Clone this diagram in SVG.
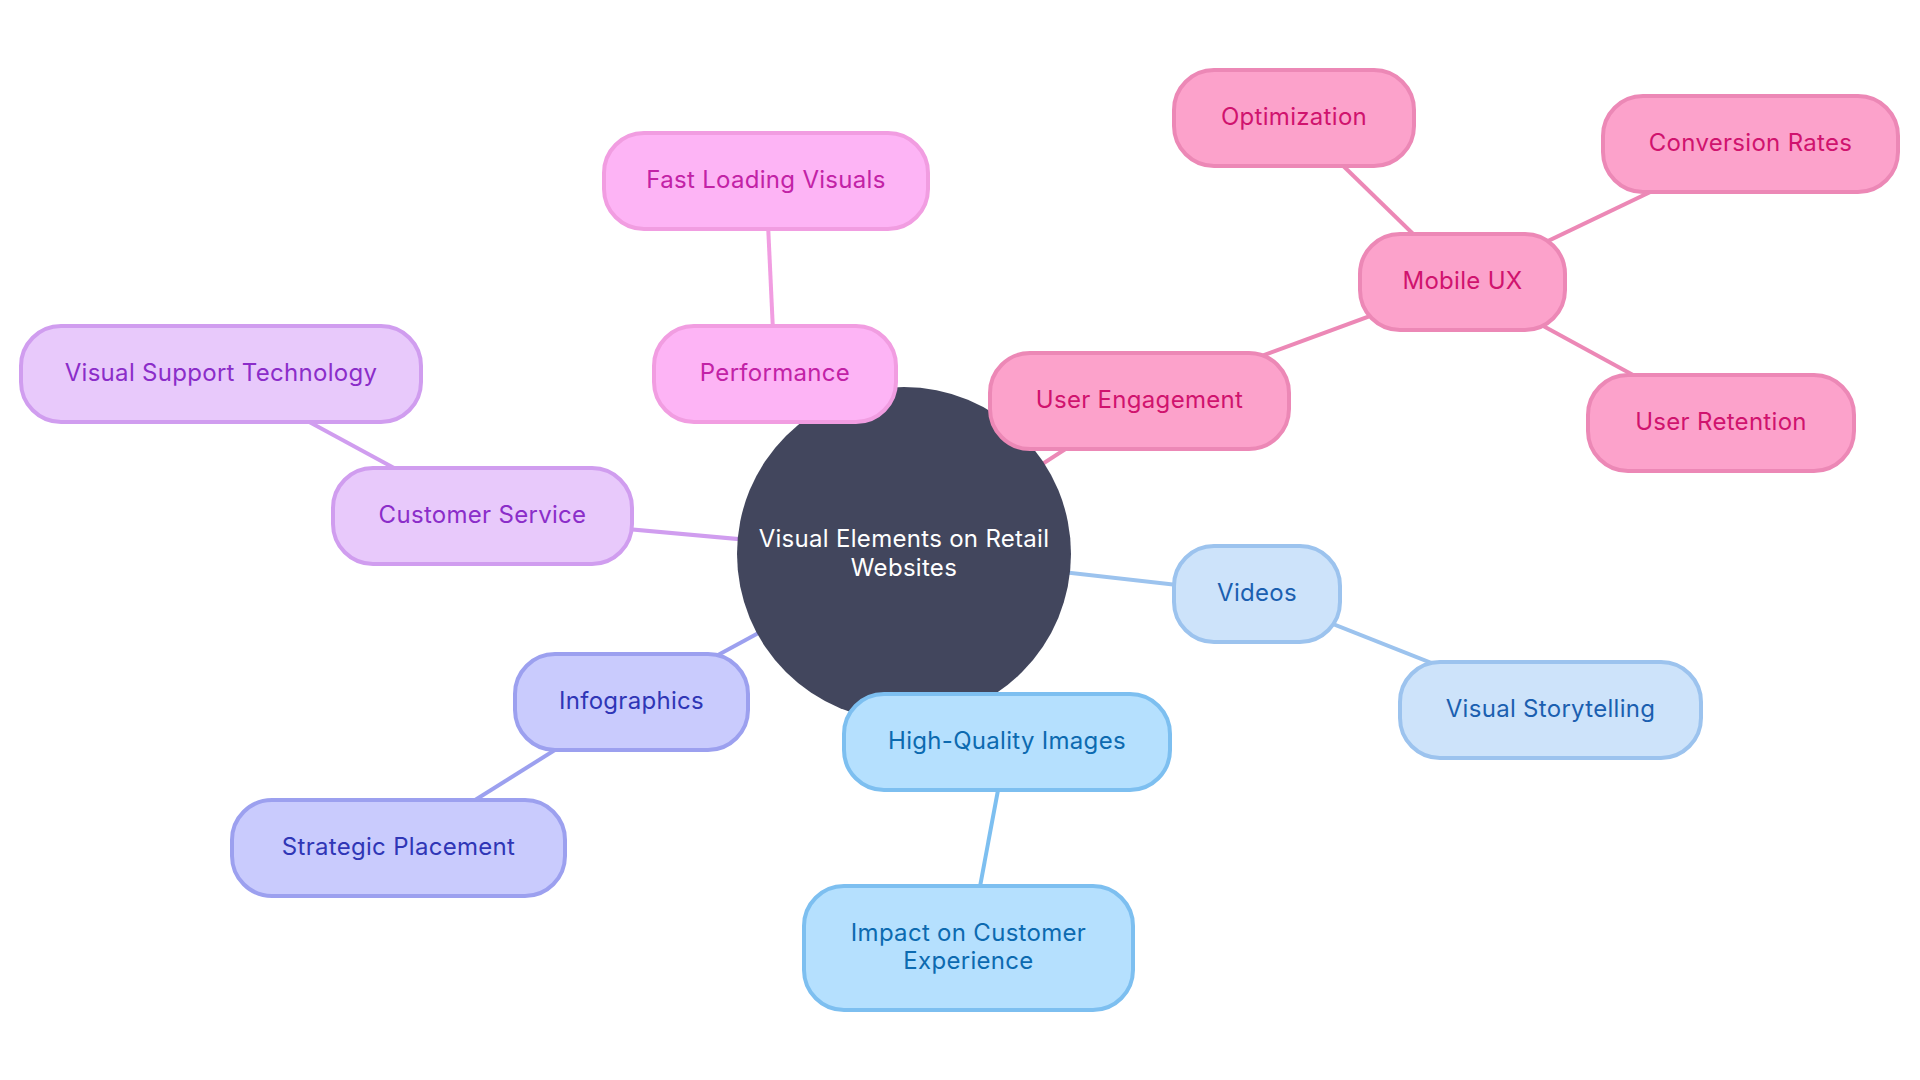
<svg xmlns="http://www.w3.org/2000/svg" width="1920" height="1080" viewBox="0 0 1920 1080">
<style>
text{font-family:Inter,"Noto Sans",sans-serif;font-size:24px;letter-spacing:0.3px;text-anchor:middle;dominant-baseline:central}
.n rect{stroke-width:4}
.e line{stroke-width:4;fill:none}
.pf rect{fill:#fdb4f5;stroke:#f19de1}.pf text{fill:#c222a6}
.ue rect{fill:#fca2cb;stroke:#ec88b6}.ue text{fill:#d0136e}
.cs rect{fill:#e8c9fb;stroke:#d09def}.cs text{fill:#8b2dc9}
.ig rect{fill:#c9cbfd;stroke:#9ca0ef}.ig text{fill:#2f36b6}
.hq rect{fill:#b5e0fe;stroke:#7dbff0}.hq text{fill:#0c6ab0}
.vd rect{fill:#cde3fa;stroke:#9cc3ee}.vd text{fill:#1b5fb0}
</style>
<g id="connectors" class="e">
<line x1="904" y1="554" x2="775" y2="374" stroke="#f19de1"/>
<line x1="775" y1="374" x2="766" y2="181" stroke="#f19de1"/>
<line x1="904" y1="554" x2="1139.5" y2="401" stroke="#ec88b6"/>
<line x1="1139.5" y1="401" x2="1462.5" y2="282" stroke="#ec88b6"/>
<line x1="1462.5" y1="282" x2="1294" y2="118" stroke="#ec88b6"/>
<line x1="1462.5" y1="282" x2="1750.5" y2="144" stroke="#ec88b6"/>
<line x1="1462.5" y1="282" x2="1721" y2="423" stroke="#ec88b6"/>
<line x1="904" y1="554" x2="1257" y2="594" stroke="#9cc3ee"/>
<line x1="1257" y1="594" x2="1550.5" y2="710" stroke="#9cc3ee"/>
<line x1="904" y1="554" x2="1007" y2="742" stroke="#7dbff0"/>
<line x1="1007" y1="742" x2="968.5" y2="948" stroke="#7dbff0"/>
<line x1="904" y1="554" x2="631.5" y2="702" stroke="#9ca0ef"/>
<line x1="631.5" y1="702" x2="398.5" y2="848" stroke="#9ca0ef"/>
<line x1="904" y1="554" x2="482.5" y2="516" stroke="#d09def"/>
<line x1="482.5" y1="516" x2="221" y2="374" stroke="#d09def"/>
</g>
<g id="root">
<circle cx="904" cy="554" r="167" fill="#42465d"/>
<text x="904" y="538" fill="#ffffff">Visual Elements on Retail</text>
<text x="904" y="567" fill="#ffffff">Websites</text>
</g>
<g id="performance" class="n pf"><rect x="654" y="326" width="242" height="96" rx="40"/><text x="775" y="372">Performance</text></g>
<g id="fast-loading" class="n pf"><rect x="604" y="133" width="324" height="96" rx="40"/><text x="766" y="179">Fast Loading Visuals</text></g>
<g id="user-engagement" class="n ue"><rect x="990" y="353" width="299" height="96" rx="40"/><text x="1139.5" y="399">User Engagement</text></g>
<g id="mobile-ux" class="n ue"><rect x="1360" y="234" width="205" height="96" rx="40"/><text x="1462.5" y="280">Mobile UX</text></g>
<g id="optimization" class="n ue"><rect x="1174" y="70" width="240" height="96" rx="40"/><text x="1294" y="116">Optimization</text></g>
<g id="conversion-rates" class="n ue"><rect x="1603" y="96" width="295" height="96" rx="40"/><text x="1750.5" y="142">Conversion Rates</text></g>
<g id="user-retention" class="n ue"><rect x="1588" y="375" width="266" height="96" rx="40"/><text x="1721" y="421">User Retention</text></g>
<g id="videos" class="n vd"><rect x="1174" y="546" width="166" height="96" rx="40"/><text x="1257" y="592">Videos</text></g>
<g id="visual-storytelling" class="n vd"><rect x="1400" y="662" width="301" height="96" rx="40"/><text x="1550.5" y="708">Visual Storytelling</text></g>
<g id="high-quality-images" class="n hq"><rect x="844" y="694" width="326" height="96" rx="40"/><text x="1007" y="740">High-Quality Images</text></g>
<g id="impact" class="n hq"><rect x="804" y="886" width="329" height="124" rx="40"/><text x="968.5" y="932">Impact on Customer</text><text x="968.5" y="960">Experience</text></g>
<g id="infographics" class="n ig"><rect x="515" y="654" width="233" height="96" rx="40"/><text x="631.5" y="700">Infographics</text></g>
<g id="strategic-placement" class="n ig"><rect x="232" y="800" width="333" height="96" rx="40"/><text x="398.5" y="846">Strategic Placement</text></g>
<g id="customer-service" class="n cs"><rect x="333" y="468" width="299" height="96" rx="40"/><text x="482.5" y="514">Customer Service</text></g>
<g id="visual-support" class="n cs"><rect x="21" y="326" width="400" height="96" rx="40"/><text x="221" y="372">Visual Support Technology</text></g>
</svg>
